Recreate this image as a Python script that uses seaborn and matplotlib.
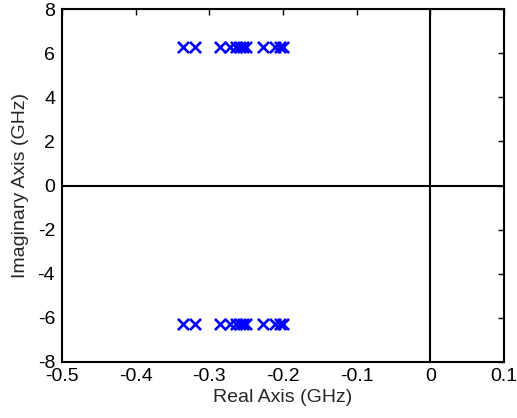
import matplotlib
matplotlib.use("Agg")
import matplotlib.pyplot as plt
import seaborn as sns
import pandas as pd

# Pole locations (GHz): real parts, mirrored conjugate pairs
real_parts = [-0.3356, -0.3198, -0.2859, -0.2724, -0.2640, -0.2590, -0.2543, -0.2500, -0.2272, -0.2114, -0.2046, -0.2000]
imag_mag = 6.28

xticks = [-0.5, -0.4, -0.3, -0.2, -0.1, 0, 0.1]
xtick_labels = ["-0.5", "-0.4", "-0.3", "-0.2", "-0.1", "0", "0.1"]
yticks = [-8, -6, -4, -2, 0, 2, 4, 6, 8]
ytick_labels = ["-8", "-6", "-4", "-2", "0", "2", "4", "6", "8"]

sns.set_theme(style="white")
plt.rcParams["font.family"] = ["Liberation Sans", "DejaVu Sans"]

df = pd.DataFrame({
    "re": real_parts + real_parts,
    "im": [imag_mag] * len(real_parts) + [-imag_mag] * len(real_parts),
})

W, H = 517, 418
fig = plt.figure(figsize=(W / 100, H / 100), dpi=100)
left, right, top, bottom = 62, 504, 9, 362
ax = fig.add_axes([left / W, 1 - bottom / H, (right - left) / W, (bottom - top) / H])

ax.axhline(0, color="black", lw=1.5, zorder=1)
ax.axvline(0, color="black", lw=1.5, zorder=1)

sns.scatterplot(data=df, x="re", y="im", marker="x", color="#0000ff",
                s=64, linewidth=1.9, ax=ax, zorder=3, legend=False)

ax.set_xlim(-0.5, 0.1)
ax.set_ylim(-8, 8)
ax.set_xticks(xticks)
ax.set_xticklabels(xtick_labels)
ax.set_yticks(yticks)
ax.set_yticklabels(ytick_labels)
ax.set_xlabel("Real Axis (GHz)", fontsize=14)
ax.set_ylabel("Imaginary Axis (GHz)", fontsize=14)
ax.xaxis.label.set_va("center")
ax.yaxis.label.set_va("center")
ax.xaxis.set_label_coords(0.5, (bottom - 398) / (bottom - top))
ax.yaxis.set_label_coords((21 - left) / (right - left), 0.5)
ax.tick_params(axis="both", direction="in", length=4, width=1, labelsize=14,
               top=True, right=True, color="black", labelcolor="black")
ax.tick_params(axis="x", pad=4)
ax.tick_params(axis="y", pad=5)
for sp in ax.spines.values():
    sp.set_visible(True)
    sp.set_color("black")
    sp.set_linewidth(1.5)

fig.savefig("out.png", dpi=100, facecolor="white")
